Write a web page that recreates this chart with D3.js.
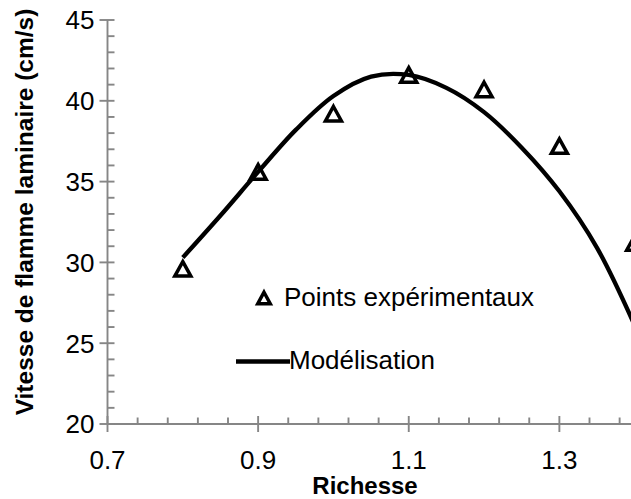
<!DOCTYPE html>
<html>
<head>
<meta charset="utf-8">
<script src="https://cdn.jsdelivr.net/npm/d3@7"></script>
<style>
  html, body { margin: 0; padding: 0; background: #fff; }
  svg { display: block; }
  text { font-family: "Liberation Sans", Arial, sans-serif; fill: #000; }
</style>
</head>
<body>
<svg id="chart" width="631" height="499"></svg>
<script>
// ---- data ----
const expRichesse = [0.8, 0.9, 1.0, 1.1, 1.2, 1.3, 1.4];
const expVitesse  = [29.6, 35.6, 39.2, 41.6, 40.7, 37.2, 31.2];

const modRichesse = [0.8, 0.85, 0.9, 0.95, 1.0, 1.05, 1.1, 1.15, 1.2, 1.25, 1.3, 1.35, 1.4];
const modVitesse  = [30.3, 32.9, 35.6, 38.2, 40.3, 41.5, 41.6, 40.8, 39.3, 37.1, 34.4, 30.9, 26.1];

const xMajorTicks = [0.7, 0.9, 1.1, 1.3, 1.5];
const xMinorTicks = [0.74, 0.78, 0.82, 0.86, 0.94, 0.98, 1.02, 1.06, 1.14, 1.18, 1.22, 1.26, 1.34, 1.38, 1.42, 1.46];
const yMajorTicks = [20, 25, 30, 35, 40, 45];
const yMinorTicks = [21,22,23,24,26,27,28,29,31,32,33,34,36,37,38,39,41,42,43,44];

const xTitle = "Richesse";
const yTitle = "Vitesse de flamme laminaire (cm/s)";
const legendLabels = ["Points expérimentaux", "Modélisation"];

// ---- layout ----
const W = 631, H = 499;
const svg = d3.select("#chart");
const x = d3.scaleLinear().domain([0.7, 1.5]).range([107.5, 710]);
const y = d3.scaleLinear().domain([20, 45]).range([424, 20]);
const axisColor = "#868686";
const axisW = 1.9;

svg.append("rect").attr("width", W).attr("height", H).attr("fill", "#fff");

// x axis
const gx = svg.append("g").attr("transform", `translate(0,${y(20)})`);
gx.append("line").attr("x1", x(0.7)).attr("x2", x(1.5)).attr("stroke", axisColor).attr("stroke-width", axisW);
gx.selectAll(".xmin").data(xMinorTicks).join("line")
  .attr("x1", d => x(d)).attr("x2", d => x(d)).attr("y1", 0).attr("y2", -6.5)
  .attr("stroke", axisColor).attr("stroke-width", axisW);
gx.selectAll(".xmaj").data(xMajorTicks).join("line")
  .attr("x1", d => x(d)).attr("x2", d => x(d)).attr("y1", -8).attr("y2", 8)
  .attr("stroke", axisColor).attr("stroke-width", axisW);
gx.selectAll(".xlab").data(xMajorTicks.filter(d => x(d) < W)).join("text")
  .attr("x", d => x(d)).attr("y", 45)
  .attr("text-anchor", "middle").attr("font-size", 26)
  .text(d => d3.format(".1f")(d));

// y axis
const gy = svg.append("g").attr("transform", `translate(${x(0.7)},0)`);
gy.append("line").attr("y1", y(20)).attr("y2", y(45)).attr("stroke", axisColor).attr("stroke-width", axisW);
gy.selectAll(".ymin").data(yMinorTicks).join("line")
  .attr("y1", d => y(d)).attr("y2", d => y(d)).attr("x1", 0).attr("x2", 7)
  .attr("stroke", axisColor).attr("stroke-width", axisW);
gy.selectAll(".ymaj").data(yMajorTicks).join("line")
  .attr("y1", d => y(d)).attr("y2", d => y(d)).attr("x1", -8).attr("x2", 7)
  .attr("stroke", axisColor).attr("stroke-width", axisW);
gy.selectAll(".ylab").data(yMajorTicks).join("text")
  .attr("x", -13).attr("y", d => y(d)).attr("dy", "0.36em")
  .attr("text-anchor", "end").attr("font-size", 26)
  .text(d => d);

// titles
svg.append("text").attr("x", 365).attr("y", 494).attr("text-anchor", "middle")
  .attr("font-size", 24).attr("font-weight", "bold").text(xTitle);
svg.append("text").attr("transform", "translate(33,212) rotate(-90)")
  .attr("text-anchor", "middle").attr("font-size", 24.5).attr("font-weight", "bold").text(yTitle);

// model curve
const line = d3.line().x((d, i) => x(modRichesse[i])).y(d => y(d)).curve(d3.curveCatmullRom);
svg.append("path").datum(modVitesse).attr("d", line)
  .attr("fill", "none").attr("stroke", "#000").attr("stroke-width", 4.3);

// experimental points (triangles)
const tri = (cx, cy, w, h) => `M${cx},${cy - h/2} L${cx + w/2},${cy + h/2} L${cx - w/2},${cy + h/2} Z`;
svg.selectAll(".pt").data(expVitesse).join("path")
  .attr("d", (d, i) => tri(x(expRichesse[i]), y(d), 16, 14.5))
  .attr("fill", "none").attr("stroke", "#000").attr("stroke-width", 3.5).attr("stroke-linejoin", "miter");

// legend
svg.append("path").attr("d", tri(264, 298, 12.5, 11.5))
  .attr("fill", "none").attr("stroke", "#000").attr("stroke-width", 3.5);
svg.append("text").attr("x", 284).attr("y", 306).attr("font-size", 26).text(legendLabels[0]);
svg.append("line").attr("x1", 236).attr("x2", 290).attr("y1", 361.5).attr("y2", 361.5)
  .attr("stroke", "#000").attr("stroke-width", 4.3);
svg.append("text").attr("x", 289).attr("y", 369).attr("font-size", 26).text(legendLabels[1]);
</script>
</body>
</html>
